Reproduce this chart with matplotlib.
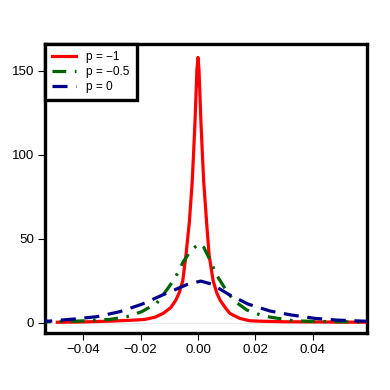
import matplotlib
matplotlib.use('Agg')
import matplotlib.pyplot as plt

plt.rcParams['font.family'] = ['Liberation Sans', 'DejaVu Sans']

# p = -1
x_red = [-0.049, -0.04, -0.03, -0.022, -0.0185, -0.015, -0.0121, -0.0095, -0.0077,
         -0.0065, -0.0053, -0.0042, -0.003, -0.002, -0.0015, -0.001, -0.0007, -0.00035,
         0.0, 0.00035, 0.0007, 0.001, 0.0015, 0.002,
         0.003, 0.0039, 0.0053, 0.0065, 0.0077, 0.0095, 0.0111, 0.0129, 0.0146,
         0.018, 0.022, 0.03, 0.04, 0.05, 0.06]
y_red = [0.3, 0.5, 1.0, 1.6, 2.0, 3.3, 5.6, 9.0, 13.5,
         18.0, 25.0, 40.0, 60.0, 84.0, 102.0, 121.0, 135.0, 151.0,
         158.0, 151.0, 135.0, 121.0, 102.0, 84.0,
         60.0, 40.0, 25.0, 18.0, 13.5, 9.0, 5.6, 4.0, 2.6,
         1.2, 0.9, 0.6, 0.5, 0.4, 0.3]

# p = -0.5
x_green = [-0.056, -0.052, -0.0417, -0.0307, -0.0248, -0.0196, -0.0144, -0.0109, -0.008,
           -0.0051, -0.0025, 0.0, 0.0007, 0.002, 0.0042, 0.0065, 0.0094, 0.0123,
           0.017, 0.0228, 0.028, 0.0331, 0.04, 0.05, 0.06]
y_green = [0.5, 0.6, 1.0, 2.0, 3.6, 6.6, 11.6, 19.5, 26.5,
           36.4, 43.0, 46.5, 47.0, 45.0, 37.4, 28.4, 20.5, 13.5,
           7.6, 4.0, 2.6, 1.2, 0.8, 0.6, 0.5]

# p = 0
x_blue = [-0.056, -0.0516, -0.0434, -0.0353, -0.0272, -0.0196, -0.0124, -0.0066, -0.0035,
          0.001, 0.0048, 0.0106, 0.0175, 0.0251, 0.0326, 0.0408, 0.0483, 0.057, 0.06]
y_blue = [0.8, 1.0, 2.2, 3.6, 6.6, 11.0, 16.5, 20.7, 23.0,
          24.8, 23.0, 17.0, 11.1, 7.0, 4.6, 2.6, 1.6, 1.0, 0.9]

labels = ['p = \u22121', 'p = \u22120.5', 'p = 0']
xticks = [-0.04, -0.02, 0.0, 0.02, 0.04]
xtick_labels = ['\u22120.04', '\u22120.02', '0.00', '0.02', '0.04']
yticks = [0, 50, 100, 150]


def main() -> None:
    fig = plt.figure(figsize=(3.9, 3.9), dpi=100)
    ax = fig.add_axes([45 / 390, 1 - 333 / 390, 322 / 390, 289 / 390])

    ax.axhline(0, color='#e8e8e8', lw=0.8, zorder=1)
    ax.plot(x_red, y_red, color='red', lw=2.3, label=labels[0], zorder=3)
    ax.plot(x_green, y_green, color='#006400', lw=2.3, label=labels[1],
            linestyle=(0, (4.3, 2.7, 0.8, 2.7)), zorder=3)
    ax.plot(x_blue, y_blue, color='#00008b', lw=2.3, label=labels[2],
            linestyle=(0, (4.7, 2.7)), zorder=3)

    ax.set_xlim(-0.0533, 0.0589)
    ax.set_ylim(-6.1, 166)
    ax.set_xticks(xticks)
    ax.set_xticklabels(xtick_labels)
    ax.set_yticks(yticks)
    ax.tick_params(direction='out', length=5, width=0.8, labelsize=9.6, pad=3)
    for spine in ax.spines.values():
        spine.set_linewidth(2.4)

    leg = ax.legend(loc='upper left', borderaxespad=0, fancybox=False,
                    fontsize=8.6, handlelength=2.0, handletextpad=0.85,
                    labelspacing=0.25, borderpad=0.6, framealpha=1)
    leg.get_frame().set_edgecolor('black')
    leg.get_frame().set_linewidth(2.4)

    fig.savefig('out.png', dpi=100)
    plt.close(fig)


if __name__ == '__main__':
    main()
